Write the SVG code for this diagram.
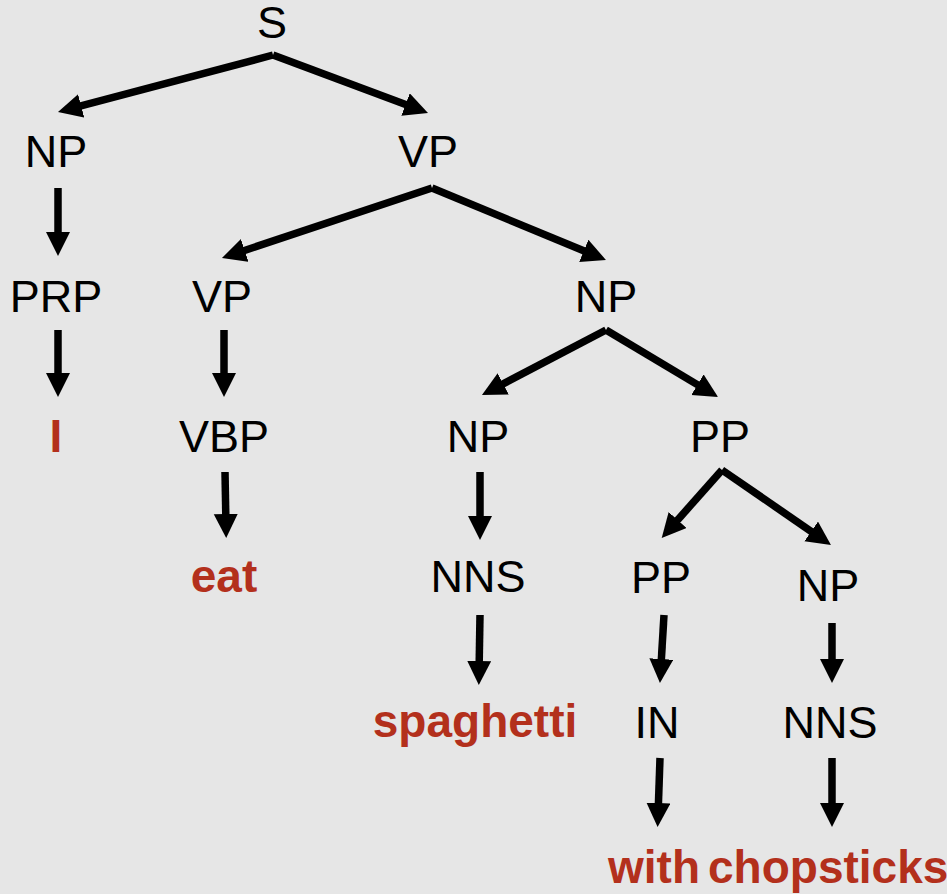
<svg xmlns="http://www.w3.org/2000/svg" width="947" height="894" viewBox="0 0 947 894">
  <style>
    .lbl { font-family: "Liberation Sans", Arial, sans-serif; font-size: 45px; fill: #000; text-anchor: middle; }
    .word { font-family: "Liberation Sans", Arial, sans-serif; font-size: 46px; font-weight: bold; fill: #b3301c; text-anchor: middle; }
    .start { text-anchor: start; }
    .edge { stroke: #000; stroke-width: 7.5; fill: none; marker-end: url(#head); }
  </style>
  <defs>
    <marker id="head" markerUnits="userSpaceOnUse" markerWidth="26" markerHeight="26" refX="13" refY="12" orient="auto">
      <path d="M0,0 L24,12 L0,24 z" fill="#000"/>
    </marker>
  </defs>
  <rect width="947" height="894" fill="#e6e6e6"/>

  <!-- tree edges -->
  <g id="edges">
    <line class="edge" x1="273" y1="55" x2="68.6" y2="109.2"/>
    <line class="edge" x1="273" y1="55" x2="417.7" y2="109.1"/>
    <line class="edge" x1="58" y1="188" x2="58" y2="245"/>
    <line class="edge" x1="432" y1="188" x2="232.4" y2="254.5"/>
    <line class="edge" x1="432" y1="188" x2="595.8" y2="255.8"/>
    <line class="edge" x1="58" y1="330" x2="58" y2="386"/>
    <line class="edge" x1="224" y1="330" x2="224" y2="386"/>
    <line class="edge" x1="606" y1="330" x2="491.7" y2="389.9"/>
    <line class="edge" x1="606" y1="330" x2="708.6" y2="391.4"/>
    <line class="edge" x1="225" y1="472" x2="226" y2="527"/>
    <line class="edge" x1="480" y1="472" x2="480" y2="529"/>
    <line class="edge" x1="722" y1="470" x2="669.0" y2="529.7"/>
    <line class="edge" x1="722" y1="470" x2="821.9" y2="538.8"/>
    <line class="edge" x1="480" y1="615" x2="479" y2="674"/>
    <line class="edge" x1="664" y1="615" x2="660.6" y2="672"/>
    <line class="edge" x1="832" y1="623" x2="832" y2="672"/>
    <line class="edge" x1="660" y1="758" x2="658" y2="816"/>
    <line class="edge" x1="832" y1="758" x2="832" y2="816"/>
  </g>

  <!-- tree nodes -->
  <g id="n-s"><text class="lbl" x="272" y="38">S</text></g>
  <g id="n-np1"><text class="lbl" x="56" y="167">NP</text></g>
  <g id="n-vp1"><text class="lbl" x="428" y="167">VP</text></g>
  <g id="n-prp"><text class="lbl" x="56" y="312">PRP</text></g>
  <g id="n-vp2"><text class="lbl" x="222" y="312">VP</text></g>
  <g id="n-np2"><text class="lbl" x="606" y="312">NP</text></g>
  <g id="n-i"><text class="word" x="56" y="452">I</text></g>
  <g id="n-vbp"><text class="lbl" x="224" y="452">VBP</text></g>
  <g id="n-np3"><text class="lbl" x="478" y="452">NP</text></g>
  <g id="n-pp1"><text class="lbl" x="720" y="452">PP</text></g>
  <g id="n-eat"><text class="word" x="224" y="592">eat</text></g>
  <g id="n-nns1"><text class="lbl" x="478" y="592">NNS</text></g>
  <g id="n-pp2"><text class="lbl" x="661" y="593">PP</text></g>
  <g id="n-np4"><text class="lbl" x="828" y="601">NP</text></g>
  <g id="n-spaghetti"><text class="word" x="475" y="737">spaghetti</text></g>
  <g id="n-in"><text class="lbl" x="657" y="738">IN</text></g>
  <g id="n-nns2"><text class="lbl" x="830" y="738">NNS</text></g>
  <g id="n-with"><text class="word" x="654" y="883">with</text></g>
  <g id="n-chopsticks"><text class="word start" x="708" y="883">chopsticks</text></g>
</svg>
